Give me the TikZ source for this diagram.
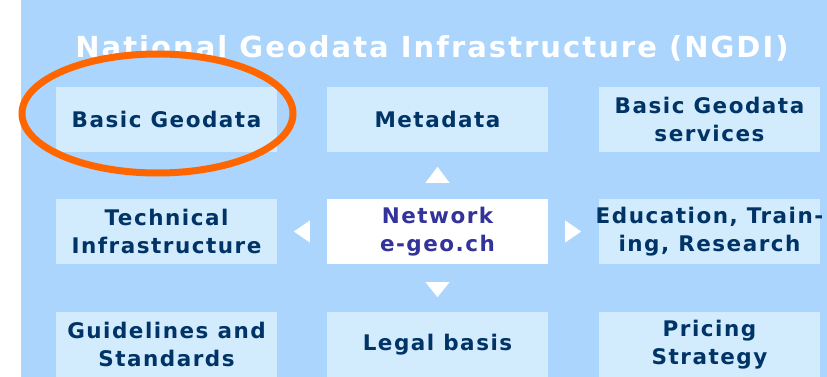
\documentclass[tikz,border=0pt]{standalone}
\usepackage{fontspec}
\usetikzlibrary{calc}
\setmainfont{DejaVu Sans}
\newfontfamily\boxfont[LetterSpace=7]{DejaVu Sans Bold}
\newfontfamily\titlefont[LetterSpace=7]{DejaVu Sans Bold}
\definecolor{bgblue}{HTML}{ABD5FC}
\definecolor{boxblue}{HTML}{D2ECFD}
\definecolor{navy}{HTML}{003366}
\definecolor{netblue}{HTML}{333399}
\definecolor{hlorange}{HTML}{FF6600}
\tikzset{
  part/.style={fill=boxblue, minimum width=221pt, minimum height=65pt, inner sep=0pt,
    align=center, text=navy, font=\boxfont\fontsize{21.5}{28}\selectfont},
  hub/.style={part, fill=white, text=netblue},
  tri/.style={fill=white, draw=none},
  hl/.style={draw=hlorange, line width=7pt}
}
\begin{document}
\begin{tikzpicture}[x=1pt,y=-1pt]
\useasboundingbox (0,0) rectangle (827,377);
\fill[bgblue] (21,0) rectangle (827,377);
\node[text=white, font=\titlefont\fontsize{29}{32}\selectfont, anchor=base] (title) at (432,58) {National Geodata Infrastructure (NGDI)};
\node[part] (bgd)  at (166.5,119.5) {Basic Geodata};
\node[part] (meta) at (437.5,119.5) {Metadata};
\node[part] (serv) at (709.5,119.5) {Basic Geodata\\services};
\node[part] (tech) at (166.5,231.5) {Technical\\Infrastructure};
\node[hub]  (net)  at (437.5,231.5) {Network\\e-geo.ch};
\node[part] (edu)  at (709.5,231.5) {\makebox[210pt][c]{Education, Train-}\\ing, Research};
\node[part] (guide) at (166.5,344.5) {Guidelines and\\Standards};
\node[part] (legal) at (437.5,344.5) {Legal basis};
\node[part] (price) at (709.5,344.5) {Pricing\\Strategy};
% arrowheads
\fill[tri] ($(net.north)+(-12,-16)$) -- ($(net.north)+(12,-16)$) -- ($(net.north)+(0,-32)$) -- cycle;
\fill[tri] ($(net.south)+(-12,18)$) -- ($(net.south)+(12,18)$) -- ($(net.south)+(0,33)$) -- cycle;
\fill[tri] ($(net.west)+(-17,-11)$) -- ($(net.west)+(-17,11)$) -- ($(net.west)+(-33,0)$) -- cycle;
\fill[tri] ($(net.east)+(17,-11)$) -- ($(net.east)+(17,11)$) -- ($(net.east)+(33,0)$) -- cycle;
% highlight
\draw[hl] ($(bgd.center)+(-9,-6)$) ellipse [x radius=135.5, y radius=59.5];
\end{tikzpicture}
\end{document}
